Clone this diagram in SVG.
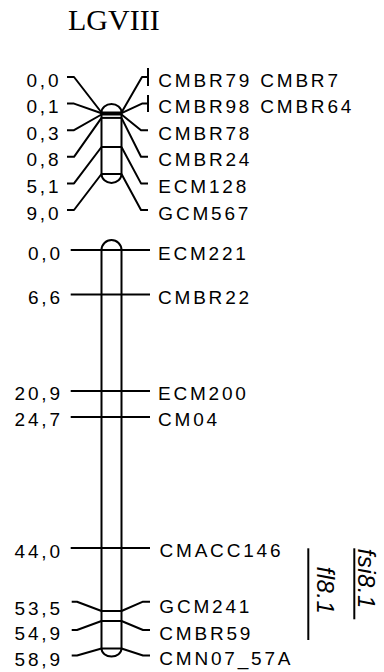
<svg xmlns="http://www.w3.org/2000/svg" width="384" height="672" viewBox="0 0 384 672">
<style>
.ln{stroke:#000;stroke-width:2;fill:none;stroke-linejoin:round}
.chr{stroke:#000;stroke-width:2;fill:#fff}
.lbl{font-family:"Liberation Sans",Arial,sans-serif;font-size:19px;letter-spacing:2.8px;fill:#000}
.qtl{font-family:"Liberation Sans",Arial,sans-serif;font-size:24px;font-style:italic;letter-spacing:0.5px;fill:#000}
.ttl{font-family:"Liberation Serif","Times New Roman",serif;font-size:30px;fill:#000}
</style>
<rect width="384" height="672" fill="#fff"/>
<g id="title"><text class="ttl" x="68" y="30">LGVIII</text></g>

<g id="chrom-top">
<path class="chr" d="M101.5,112.5 A10,8.5 0 0 1 121.5,112.5 L121.5,174 A10,9 0 0 1 101.5,174 Z"/>
<g class="ln">
<line x1="101.5" y1="112.5" x2="121.5" y2="112.5"/>
<line x1="101.5" y1="113.2" x2="121.5" y2="113.2"/>
<line x1="101.5" y1="114.5" x2="121.5" y2="114.5"/>
<line x1="101.5" y1="117.9" x2="121.5" y2="117.9"/>
<line x1="101.5" y1="147" x2="121.5" y2="147"/>
<line x1="101.5" y1="174" x2="121.5" y2="174"/>
</g>
</g>

<g id="chrom-bottom">
<path class="chr" d="M101.5,250 A10,10 0 0 1 121.5,250 L121.5,648.5 A10,8 0 0 1 101.5,648.5 Z"/>
<g class="ln">
<line x1="101.5" y1="611" x2="121.5" y2="611"/>
<line x1="101.5" y1="621" x2="121.5" y2="621"/>
<line x1="101.5" y1="648.5" x2="121.5" y2="648.5"/>
</g>
</g>

<g id="connectors" class="ln">
<polyline points="67,77 74,77 101.5,112.5"/>
<polyline points="67,103.6 74,103.6 101.5,113.2"/>
<polyline points="67,130.2 74,130.2 101.5,114.5"/>
<polyline points="67,156.8 74,156.8 101.5,117.9"/>
<polyline points="67,183.4 74,183.4 101.5,147"/>
<polyline points="67,210 74,210 101.5,174"/>
<polyline points="121.5,112.5 142,77 148,77"/>
<line x1="148" y1="68" x2="148" y2="86"/>
<polyline points="121.5,113.2 142,103.6 148,103.6"/>
<line x1="148" y1="95" x2="148" y2="112"/>
<polyline points="121.5,114.5 141,130.2 148,130.2"/>
<polyline points="121.5,117.9 141,156.8 148,156.8"/>
<polyline points="121.5,147 141,183.4 148,183.4"/>
<polyline points="121.5,174 141,210 148,210"/>

<line x1="70.7" y1="250" x2="150" y2="250"/>
<line x1="70.7" y1="294.5" x2="150" y2="294.5"/>
<line x1="70.7" y1="391" x2="150" y2="391"/>
<line x1="70.7" y1="417" x2="150" y2="417"/>
<line x1="70.7" y1="548" x2="150" y2="548"/>
<polyline points="71.7,601.7 77,601.7 101.5,611"/>
<polyline points="121.5,611 143,601.7 150,601.7"/>
<polyline points="71.7,630 77,630 101.5,621"/>
<polyline points="121.5,621 143,630 150,630"/>
<polyline points="71.7,655.5 77,655.5 101.5,648.5"/>
<polyline points="121.5,648.5 143,655.5 150,655.5"/>
</g>

<g id="m-top-0-0"><text class="lbl" x="26.5" y="86.5">0,0</text><text class="lbl" x="158.3" y="86.5">CMBR79 CMBR7</text></g>
<g id="m-top-0-1"><text class="lbl" x="26.5" y="113.1">0,1</text><text class="lbl" x="158.3" y="113.1">CMBR98 CMBR64</text></g>
<g id="m-top-0-3"><text class="lbl" x="26.5" y="139.7">0,3</text><text class="lbl" x="158.3" y="139.7">CMBR78</text></g>
<g id="m-top-0-8"><text class="lbl" x="26.5" y="166.3">0,8</text><text class="lbl" x="158.3" y="166.3">CMBR24</text></g>
<g id="m-top-5-1"><text class="lbl" x="26.5" y="192.9">5,1</text><text class="lbl" x="158.3" y="192.9">ECM128</text></g>
<g id="m-top-9-0"><text class="lbl" x="26.5" y="219.5">9,0</text><text class="lbl" x="158.3" y="219.5">GCM567</text></g>

<g id="m-ecm221"><text class="lbl" x="28" y="259.5">0,0</text><text class="lbl" x="158" y="259.5">ECM221</text></g>
<g id="m-cmbr22"><text class="lbl" x="28" y="304">6,6</text><text class="lbl" x="158" y="303.5">CMBR22</text></g>
<g id="m-ecm200"><text class="lbl" x="14.6" y="400">20,9</text><text class="lbl" x="158" y="399.5">ECM200</text></g>
<g id="m-cm04"><text class="lbl" x="14.6" y="426.3">24,7</text><text class="lbl" x="158" y="425.5">CM04</text></g>
<g id="m-cmacc146"><text class="lbl" x="14.6" y="558">44,0</text><text class="lbl" x="159.5" y="556.5">CMACC146</text></g>
<g id="m-gcm241"><text class="lbl" x="14.6" y="615">53,5</text><text class="lbl" x="159.3" y="613">GCM241</text></g>
<g id="m-cmbr59"><text class="lbl" x="14.6" y="640">54,9</text><text class="lbl" x="159.3" y="640">CMBR59</text></g>
<g id="m-cmn07"><text class="lbl" x="14.6" y="665.5">58,9</text><text class="lbl" x="159.3" y="665">CMN07_57A</text></g>

<g id="qtl-fl8-1">
<line class="ln" x1="308.3" y1="548.3" x2="308.3" y2="640"/>
<text class="qtl" transform="translate(317,566.5) rotate(90)">fl8.1</text>
</g>
<g id="qtl-fsi8-1">
<line class="ln" x1="354.3" y1="548.3" x2="354.3" y2="619.3"/>
<text class="qtl" transform="translate(358,548.5) rotate(90)">fsi8.1</text>
</g>
</svg>
